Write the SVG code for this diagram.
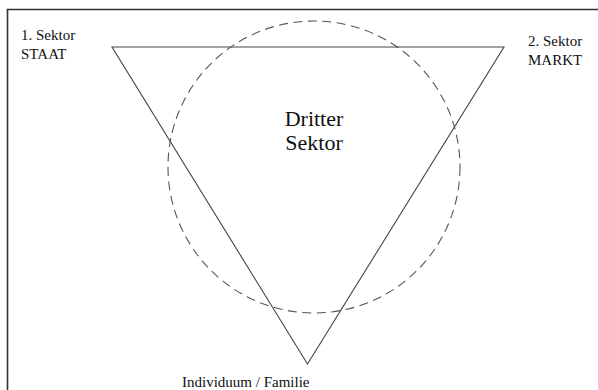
<svg xmlns="http://www.w3.org/2000/svg" width="598" height="390" viewBox="0 0 598 390">
<style>
.t{font-family:"Liberation Serif","Times New Roman",serif;fill:#111;font-size:15px}
.ln{fill:none;stroke:#444;stroke-width:1.1}
</style>
<rect width="598" height="390" fill="#fff"/>
<path d="M7.5,400 V9.5 H610" fill="none" stroke="#333" stroke-width="1.6"/>
<g id="circle"><circle cx="314" cy="167" r="146" fill="none" stroke="#555" stroke-width="1.1" stroke-dasharray="9,5.5"/></g>
<g id="triangle"><polygon class="ln" points="112,47 504,47 307.5,364"/></g>
<g id="staat"><text class="t" x="21" y="40">1. Sektor</text><text class="t" x="21" y="59">STAAT</text></g>
<g id="markt"><text class="t" x="528" y="46">2. Sektor</text><text class="t" x="528" y="65">MARKT</text></g>
<g id="dritter"><text class="t" x="314" y="126" text-anchor="middle" font-size="22" style="font-size:22px">Dritter</text><text class="t" x="314" y="150" text-anchor="middle" style="font-size:22px">Sektor</text></g>
<g id="individuum"><text class="t" x="182" y="387">Individuum / Familie</text></g>
<g id="connectors"></g>
</svg>
